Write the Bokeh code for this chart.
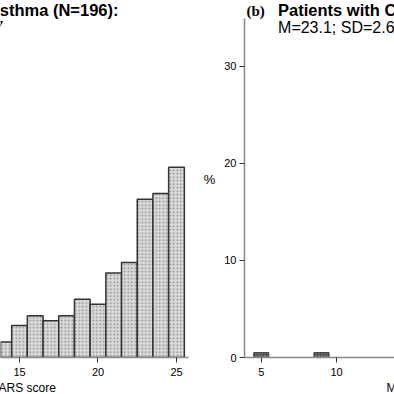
from bokeh.plotting import figure
from bokeh.layouts import row
from bokeh.models import Label, Range1d, FixedTicker, Title
from bokeh.embed import file_html
from bokeh.resources import INLINE

# ---- data ----
asthma_scores = [14, 15, 16, 17, 18, 19, 20, 21, 22, 23, 24, 25]
asthma_pct = [1.6, 3.3, 4.3, 3.8, 4.3, 6.0, 5.5, 8.7, 9.8, 16.3, 16.9, 19.6]
copd_scores = [5, 9]
copd_pct = [0.5, 0.5]
y_ticks = [0, 10, 20, 30]
left_x_ticks = [15, 20, 25]
right_x_ticks = [5, 10]
title_a = "(a) Patients with asthma (N=196):"
stats_a = "M=21.6; SD=3.7"
title_b_tag = "(b)"
title_b = "Patients with COPD:"
stats_b = "M=23.1; SD=2.6"
x_label = "MARS score"
y_label = "%"

AX = "#8a8a8a"
FONT = "Liberation Sans"
PX_Y = 9.73          # pixels per percent
YTOP = 358 / PX_Y    # value at the top pixel row
YAX = 340 / PX_Y     # top of the y axis


def style_axis(ax, ticks):
    ax.ticker = FixedTicker(ticks=ticks)
    ax.axis_line_color = AX
    ax.axis_line_width = 1.5
    ax.major_tick_line_color = "#333333"
    ax.major_tick_in = 0
    ax.major_tick_out = 5
    ax.minor_tick_line_color = None
    ax.major_label_text_font = FONT
    ax.major_label_text_font_size = "11px"
    ax.major_label_text_color = "black"


# ---- left panel (asthma) ----
LX0, LPX = 13.79, 15.7
L = figure(width=200, height=394, output_backend="svg", toolbar_location=None,
           x_range=Range1d(LX0, LX0 + 200 / LPX), y_range=Range1d(0, YTOP),
           min_border_left=0, min_border_right=0, min_border_top=0,
           min_border_bottom=36, y_axis_location=None)
L.outline_line_color = None
L.grid.visible = False
L.vbar(x=asthma_scores, top=asthma_pct, width=1.0, bottom=0,
       fill_color="#dadada", line_color="#333333", line_width=1.5,
       hatch_pattern="dot", hatch_scale=3.5, hatch_color="#888888", hatch_weight=1)
xa = L.xaxis[0]
style_axis(xa, left_x_ticks)
xa.bounds = (LX0, LX0 + 188 / LPX)
xa.major_label_standoff = 5
L.add_layout(Title(text=x_label, align="left", offset=-12, text_font=FONT,
                   text_font_size="12px", text_font_style="normal",
                   text_color="black", standoff=0), "below")
L.add_layout(Label(x=LX0 + 118 / LPX, y=(358 - 10) / PX_Y, text=title_a,
                   text_font=FONT, text_font_style="bold", text_font_size="16.5px",
                   text_color="black", text_baseline="middle", text_align="right"))
L.add_layout(Label(x=LX0 + 3 / LPX, y=(358 - 27) / PX_Y, text=stats_a,
                   text_font=FONT, text_font_size="16px",
                   text_color="black", text_baseline="middle", text_align="right"))

# ---- right panel (COPD) ----
RX0, RPX = 3.886, 15.26
R = figure(width=194, height=394, output_backend="svg", toolbar_location=None,
           x_range=Range1d(RX0, RX0 + 152 / RPX), y_range=Range1d(0, YTOP),
           min_border_left=42, min_border_right=0, min_border_top=0,
           min_border_bottom=36)
R.outline_line_color = None
R.grid.visible = False
R.vbar(x=copd_scores, top=copd_pct, width=1.0, bottom=0,
       fill_color="#505050", line_color="#333333", line_width=1,
       hatch_pattern="dot", hatch_scale=3, hatch_color="#b0b0b0", hatch_weight=1)
xb = R.xaxis[0]
style_axis(xb, right_x_ticks)
xb.major_label_standoff = 5
yb = R.yaxis[0]
style_axis(yb, y_ticks)
yb.bounds = (0, YAX)
yb.major_label_standoff = 3
yb.axis_label = y_label
yb.axis_label_orientation = "horizontal"
yb.axis_label_text_font = FONT
yb.axis_label_text_font_style = "normal"
yb.axis_label_text_font_size = "13px"
yb.axis_label_text_color = "black"
yb.axis_label_standoff = 6

R.add_layout(Title(text=x_label, align="left", offset=142, text_font=FONT,
                   text_font_size="12px", text_font_style="normal",
                   text_color="black", standoff=0), "below")
R.add_layout(Label(x=RX0 + 2 / RPX, y=(358 - 11) / PX_Y, text=title_b_tag,
                   text_font="Liberation Serif", text_font_style="bold",
                   text_font_size="15px", text_color="black",
                   text_baseline="middle", text_align="left"))
R.add_layout(Label(x=RX0 + 34 / RPX, y=(358 - 10) / PX_Y, text=title_b,
                   text_font=FONT, text_font_style="bold", text_font_size="16.5px",
                   text_color="black", text_baseline="middle", text_align="left"))
R.add_layout(Label(x=RX0 + 34 / RPX, y=(358 - 27) / PX_Y, text=stats_b,
                   text_font=FONT, text_font_size="16px",
                   text_color="black", text_baseline="middle", text_align="left"))

layout = row(L, R, spacing=0)
layout.styles = {"position": "absolute", "left": "0px", "top": "0px"}

open("out.html", "w").write(file_html(layout, INLINE))
